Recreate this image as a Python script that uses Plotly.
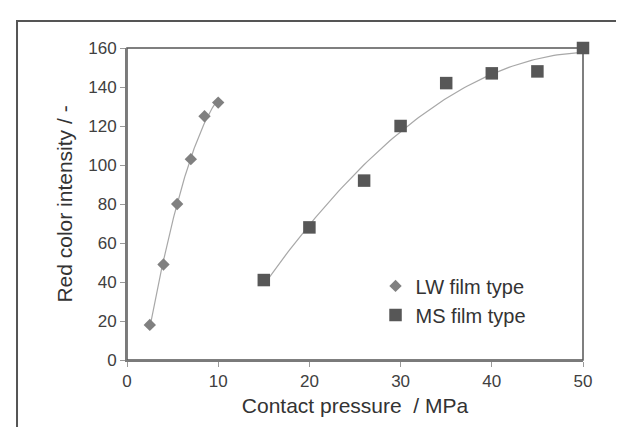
import numpy as np
import plotly.graph_objects as go

lw_x = [2.5, 4, 5.5, 7, 8.5, 10]
lw_y = [18, 49, 80, 103, 125, 132]
ms_x = [15, 20, 26, 30, 35, 40, 45, 50]
ms_y = [41, 68, 92, 120, 142, 147, 148, 160]

x_ticks = [0, 10, 20, 30, 40, 50]
y_ticks = [0, 20, 40, 60, 80, 100, 120, 140, 160]

FONT = "Arial, Liberation Sans, sans-serif"

def trend(x, y, deg=2, n=100):
    c = np.polyfit(x, y, deg)
    xs = np.linspace(min(x), max(x), n)
    return xs, np.polyval(c, xs)

fig = go.Figure()

tx, ty = trend(lw_x, lw_y)
fig.add_trace(go.Scatter(x=tx, y=ty, mode="lines", line=dict(color="#a8a8a8", width=1.2),
                         showlegend=False, hoverinfo="skip"))
tx, ty = trend(ms_x, ms_y)
fig.add_trace(go.Scatter(x=tx, y=ty, mode="lines", line=dict(color="#a8a8a8", width=1.2),
                         showlegend=False, hoverinfo="skip"))

fig.add_trace(go.Scatter(x=lw_x, y=lw_y, mode="markers", name="LW film type",
                         marker=dict(symbol="diamond", size=9.5, color="#808080"),
                         cliponaxis=False))
fig.add_trace(go.Scatter(x=ms_x, y=ms_y, mode="markers", name="MS film type",
                         marker=dict(symbol="square", size=12.5, color="#575757"),
                         cliponaxis=False))

# plot-area frame (top/right darker)
fig.add_shape(type="rect", xref="paper", yref="paper", x0=0, x1=1, y0=0, y1=1,
              line=dict(color="#555555", width=1.5), layer="below")
# outer frame (left and top edges visible)
fig.add_shape(type="path", xref="paper", yref="paper",
              path="M -0.2412,-0.4 L -0.2412,1.0865 L 1.3,1.0865",
              line=dict(color="#555555", width=2))

fig.update_layout(
    width=624, height=427,
    margin=dict(l=119, r=49, t=40, b=75),
    paper_bgcolor="white", plot_bgcolor="white",
    font=dict(family=FONT, color="#404040", size=16),
    showlegend=True,
    legend=dict(x=0.545, y=0.30, xanchor="left", yanchor="top",
                bgcolor="rgba(0,0,0,0)", font=dict(size=20, color="#333333"),
                itemwidth=30),
    xaxis=dict(range=[0, 50], tickvals=x_ticks, showgrid=False, zeroline=False,
               showline=True, linecolor="#7a7a7a", linewidth=2,
               ticks="outside", ticklen=5, tickcolor="#9a9a9a",
               tickfont=dict(size=17, color="#404040"),
               title=dict(text="Contact pressure  / MPa", font=dict(size=21, color="#333333"), standoff=8)),
    yaxis=dict(range=[0, 160], tickvals=y_ticks, showgrid=False, zeroline=False,
               showline=True, linecolor="#7a7a7a", linewidth=2,
               ticks="outside", ticklen=5, tickcolor="#9a9a9a",
               tickfont=dict(size=17, color="#404040"),
               title=dict(text="Red color intensity / -", font=dict(size=21, color="#333333"), standoff=10)),
)

fig.write_html("out.html")
